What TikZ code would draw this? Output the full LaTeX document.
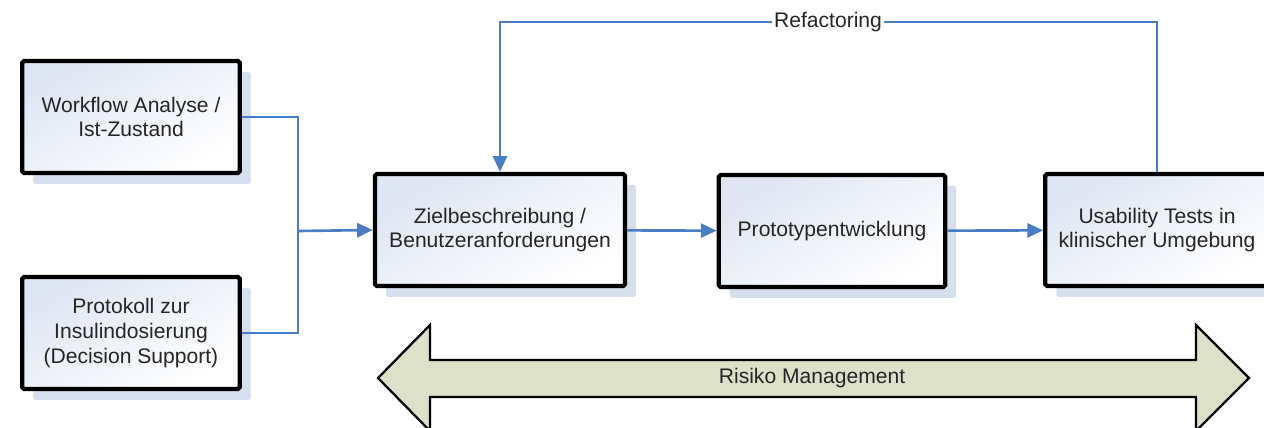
\documentclass[tikz,border=0pt]{standalone}
\usepackage{fontspec}
\setmainfont{Liberation Sans}
\usetikzlibrary{arrows.meta,shadows}

\definecolor{flowblue}{HTML}{4A7EC4}
\definecolor{boxtop}{HTML}{DEE5F3}
\definecolor{shadowblue}{HTML}{D6DFEE}
\definecolor{riskfill}{HTML}{DDE1C9}
\definecolor{textgray}{HTML}{262626}

\begin{document}
\begin{tikzpicture}[x=0.02cm, y=-0.02cm, >={Triangle[length=9pt,width=8pt]},
  every node/.style={font=\fontsize{12}{14}\selectfont, text=textgray},
  box/.style={draw=black, line width=2.4pt, rounded corners=1pt,
    minimum height=2.24cm, align=center, top color=boxtop, bottom color=white,
    shading angle=30,
    drop shadow={shadow xshift=0.22cm, shadow yshift=-0.22cm, fill=shadowblue, opacity=1}},
  flow/.style={draw=flowblue, line width=1.5pt}]
\path[use as bounding box, clip] (0,0) rectangle (1264,427);

% input boxes
\node[box, minimum width=4.35cm] (wf) at (131,117) {Workflow Analyse /\\Ist-Zustand};
\node[box, minimum width=4.35cm] (prot) at (131,333) {Protokoll zur\\Insulindosierung\\(Decision Support)};
% main chain
\node[box, minimum width=5.0cm] (ziel) at (500,230) {Zielbeschreibung /\\Benutzeranforderungen};
\node[box, minimum width=4.53cm] (proto) at (832,231) {Prototypentwicklung};
\node[box, minimum width=4.47cm] (usab) at (1157,230) {Usability Tests in\\klinischer Umgebung};

\coordinate (jn) at (298,231);
\draw[flow] (wf.east) -| (jn);
\draw[flow] (prot.east) -| (jn);
\draw[flow,->] (jn) -- (ziel.west);
\draw[flow,->] (ziel) -- (proto);
\draw[flow,->] (proto) -- (usab);

% feedback loop
\node[fill=white, inner sep=1pt] (refac) at (828,22) {Refactoring};
\draw[flow] (usab.north) |- (refac.east);
\draw[flow,->] (refac.west) -| (ziel.north);

% risk management band
\draw[fill=riskfill, line width=1.3pt] (378,378) -- (430,325) -- (430,360) -- (1196,360)
  -- (1196,325) -- (1249,378) -- (1196,431) -- (1196,397) -- (430,397) -- (430,431) -- cycle;
\node (risk) at (812,378) {Risiko Management};
\end{tikzpicture}
\end{document}
